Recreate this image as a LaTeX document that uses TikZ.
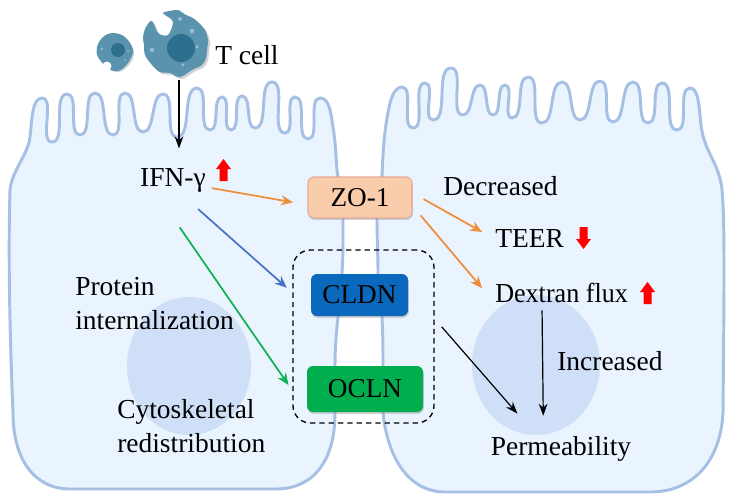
\documentclass[tikz,border=0pt]{standalone}
\usepackage{fontspec}
\setmainfont{Liberation Serif}
\usetikzlibrary{arrows.meta,shadows}
\definecolor{cellfill}{HTML}{E9F4FF}
\definecolor{cellline}{HTML}{A6BFE4}
\definecolor{organelle}{HTML}{CEDFF7}
\definecolor{zofill}{HTML}{F9CDAC}
\definecolor{zoline}{HTML}{E3A899}
\definecolor{cldnfill}{HTML}{0A69BD}
\definecolor{oclnfill}{HTML}{00AE4F}
\definecolor{arroworange}{HTML}{EF8E3A}
\definecolor{arrowblue}{HTML}{4A73C6}
\definecolor{arrowgreen}{HTML}{12B156}
\definecolor{tbody}{HTML}{5A93AE}
\definecolor{tcore}{HTML}{2D6F8D}
\definecolor{tspot}{HTML}{93BDCE}
\tikzset{
  x=0.75pt,y=-0.75pt,
  cellshape/.style={fill=cellfill,draw=cellline,line width=2.2pt,line join=round},
  organelleshape/.style={fill=organelle},
  villus/.style={out=0,in=180,looseness=0.75},
  label/.style={inner sep=0pt,font=\fontsize{20.6}{25.5}\selectfont,text=black},
  tag/.style={label,text height=18pt,text depth=4.5pt},
  protein/.style={rounded corners=4.5pt,inner sep=0pt,font=\fontsize{20.4}{24}\selectfont,text=black,
    drop shadow={shadow xshift=0.6pt,shadow yshift=-1.4pt,opacity=0.35}},
  link/.style={line width=1.3pt,-{Stealth[length=9pt,width=7.5pt]}},
  thinlink/.style={line width=0.9pt,-{Stealth[length=9pt,width=6.5pt]}},
  level/.style={fill=red,draw=none},
}
% Block arrow whose box has its top left corner at the given point
\newcommand{\levelup}[2]{\fill[level,shift={(#1,#2)}] (7.5,0) -- (15,10) -- (11.5,10) -- (11.5,22) -- (3.5,22) -- (3.5,10) -- (0,10) -- cycle;}
\newcommand{\leveldown}[2]{\fill[level,shift={(#1,#2)}] (7.5,22) -- (15,12) -- (11.5,12) -- (11.5,0) -- (3.5,0) -- (3.5,12) -- (0,12) -- cycle;}
\begin{document}
\begin{tikzpicture}
\useasboundingbox[fill=white] (0,0) rectangle (730,501);

% Left epithelial cell with its microvilli
\draw[cellshape] (13,413) .. controls (10,340) and (8,260) .. (10,190)
  .. controls (12,170) and (28,155) .. (30,137) .. controls (32,120) and (32,98) .. (42,98)
  to[villus] (52,142) to[villus] (67,94) to[villus] (80,135) to[villus] (95,93) to[villus] (113,135)
  to[villus] (125,93) to[villus] (143,132) to[villus] (163,94) to[villus] (177,137) to[villus] (197,88)
  to[villus] (210,130) to[villus] (222,97) to[villus] (231,130) to[villus] (242,96) to[villus] (255,128)
  to[villus] (272,82) to[villus] (285,133) to[villus] (295,97) to[villus] (308,139) to[villus] (320,98)
  .. controls (330,98) and (331,115) .. (333,127) .. controls (336,145) and (336,160) .. (337,170)
  .. controls (340,190) and (343,205) .. (343,220) .. controls (343,250) and (343,260) .. (342,273)
  .. controls (341,290) and (339,305) .. (338,317) .. controls (336,335) and (335,350) .. (335,367)
  -- (335,413) .. controls (335,465) and (310,489) .. (276,489) -- (70,489)
  .. controls (35,489) and (13,460) .. cycle;

% Right epithelial cell with its microvilli
\draw[cellshape] (382,177) .. controls (383,150) and (384,130) .. (390,103)
  .. controls (393,92) and (397,87) .. (402,87)
  to[villus] (413,128) to[villus] (425,83) to[villus] (433,120) to[villus] (451,68) to[villus] (463,115)
  to[villus] (480,85) to[villus] (493,115) to[villus] (505,85) to[villus] (512,118) to[villus] (528,77)
  to[villus] (542,123) to[villus] (562,82) to[villus] (580,120) to[villus] (600,81) to[villus] (613,122)
  to[villus] (633,82) to[villus] (648,123) to[villus] (662,83) to[villus] (677,130) to[villus] (690,88)
  .. controls (698,88) and (699,105) .. (700,115) .. controls (701,130) and (703,137) .. (706,145)
  .. controls (711,158) and (720,170) .. (722,190) .. controls (725,220) and (724,300) .. (723,413)
  .. controls (720,465) and (690,492) .. (650,492) -- (445,492)
  .. controls (410,492) and (388,460) .. (383,413) -- (383,367)
  .. controls (383,350) and (383,335) .. (382,317) .. controls (381,300) and (378,290) .. (378,273)
  .. controls (378,255) and (377,240) .. (377,220) .. controls (377,205) and (381,190) .. cycle;

\fill[organelleshape] (189,366) ellipse [x radius=62,y radius=69];
\fill[organelleshape] (536,365) ellipse [x radius=64,y radius=70];

% T cells
\node[minimum size=57pt,inner sep=0pt] (tcell) at (179,42) {};
\fill[black,opacity=0.18] plot[smooth cycle,tension=0.55] coordinates {
  (165,15) (172,13) (180,12) (188,17) (195,20) (203,27) (207,32) (210,42) (209,52) (208,60) (204,67) (194,72)
  (182,79) (172,75) (162,74) (154,67) (147,57) (146,47) (145,39) (148,29) (154,23) (160,35) (170,37) (175,25) (172,20)};
\fill[tbody] plot[smooth cycle,tension=0.55] coordinates {
  (163,13) (170,11) (178,10) (186,15) (193,18) (201,25) (205,30) (208,40) (207,50) (206,58) (202,65) (192,70)
  (180,77) (170,73) (160,72) (152,65) (145,55) (144,45) (143,37) (146,27) (152,21) (158,33) (168,35) (173,23) (170,18)};
\fill[tcore] (181,48) circle [radius=14];
\fill[tspot] (192,31) circle [radius=2.5] (180,19) circle [radius=2] (152,50) circle [radius=2.2]
  (197,47) circle [radius=1.8] (183,65) circle [radius=1.6];
\fill[black,opacity=0.18] plot[smooth cycle,tension=0.6] coordinates {
  (114,35) (126,39) (134,52) (129,65) (119,72) (109,69) (99,58) (98,48) (104,39)};
\fill[tbody] plot[smooth cycle,tension=0.6] coordinates {
  (113,33) (125,37) (133,50) (128,63) (118,71) (108,68) (98,57) (97,47) (103,37)};
\fill[white] (107,66) circle [radius=4.5];
\fill[tcore] (118,50) circle [radius=7];
\fill[tspot] (102,49) circle [radius=1.3] (125,60) circle [radius=1.2] (128,51) circle [radius=1];

% Labels
\node[tag,anchor=west] (tlabel) at (215,55) {T cell};
\node[tag] (ifn) at (173,177) {IFN-γ};
\node[tag,anchor=west] (decreased) at (443,186) {Decreased};
\node[tag,anchor=west] (teer) at (495,238) {TEER};
\node[tag,anchor=west] (dextran) at (495,293) {\addfontfeature{FakeStretch=0.95}Dextran flux};
\node[tag,anchor=west] (increased) at (557,361) {Increased};
\node[tag] (perm) at (561,446) {Permeability};
\node[label,anchor=west,align=left] (internal) at (75,304) {Protein\\internalization};
\node[label,anchor=west,align=left] (skeleton) at (117,426) {Cytoskeletal\\redistribution};

% Junction proteins and the dashed group around two of them
\node[draw=black,dash pattern=on 4pt off 3pt,line width=1pt,rounded corners=13pt,minimum width=105.75pt,minimum height=129.75pt,inner sep=0pt] (group) at (363.5,336.5) {};
\node[protein,fill=zofill,draw=zoline,line width=0.8pt,minimum width=78pt,minimum height=30.75pt] (zo) at (360,197.5) {ZO-1};
\node[protein,fill=cldnfill,minimum width=72.75pt,minimum height=31.5pt] (cldn) at (359.5,295) {CLDN};
\node[protein,fill=oclnfill,minimum width=87pt,minimum height=34.5pt] (ocln) at (365,389) {OCLN};

% Level markers
\levelup{216}{159}
\leveldown{576}{227}
\levelup{640}{282}

% Signalling arrows
\draw[thinlink,shorten >=10pt] (tcell.south) -- (tcell.south |- ifn.north);
\draw[link,arroworange,shorten <=4.5pt,shorten >=11pt] (ifn.-17) -- (zo.188);
\draw[link,arrowblue,shorten <=19pt,shorten >=24pt] (ifn.-68) -- (cldn.196);
\draw[link,arrowgreen,shorten <=32pt,shorten >=24pt] (ifn.-139) -- (ocln.201);
\draw[link,arroworange,shorten <=9.5pt,shorten >=11pt] (zo.5) -- (teer.182);
\draw[link,arroworange,shorten <=9.3pt,shorten >=15pt] (zo.-9) -- (dextran.189);
\draw[thinlink,shorten <=8pt,shorten >=17pt] (group.14) -- (perm.152);
\draw[thinlink,shorten <=1.5pt,shorten >=11.25pt] (dextran.218) -- (perm.139);
\end{tikzpicture}
\end{document}
